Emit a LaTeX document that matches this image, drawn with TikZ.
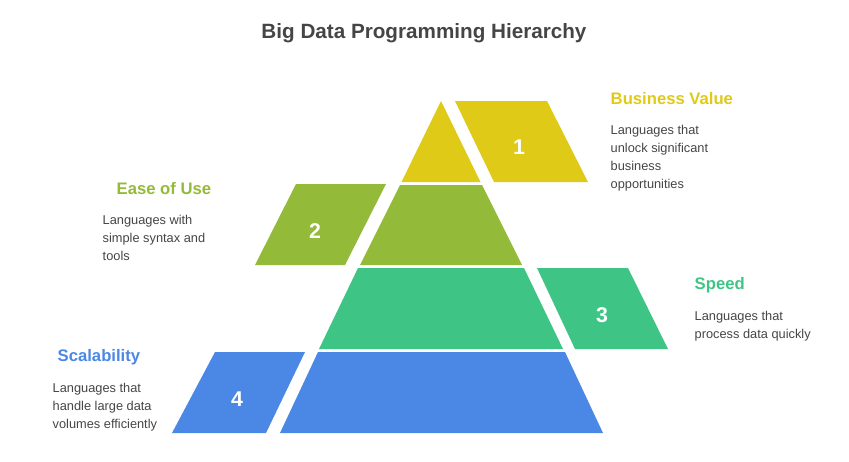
\documentclass[tikz,border=0pt]{standalone}
\usepackage{fontspec}
\setmainfont{Liberation Sans}
\usetikzlibrary{positioning}
\definecolor{bizgold}{HTML}{DFCA18}
\definecolor{easeolive}{HTML}{94BA3A}
\definecolor{speedgreen}{HTML}{3EC586}
\definecolor{scaleblue}{HTML}{4B87E5}
\definecolor{txtgray}{HTML}{454545}
\tikzset{
  num/.style={text=white,font=\bfseries\fontsize{16}{16}\selectfont},
  head/.style={anchor=west,font=\bfseries\fontsize{12.5}{14}\selectfont},
  desc/.style={anchor=north west,align=left,text=txtgray,font=\fontsize{9.6}{13.5}\selectfont},
}
\begin{document}
\begin{tikzpicture}[x=0.75pt,y=-0.75pt]
  \useasboundingbox (0,0) rectangle (849,461);
  \node (title) at (424,33) {\bfseries\fontsize{15.5}{18}\selectfont\color{txtgray}Big Data Programming Hierarchy};

  % pyramid tiers
  \fill [bizgold] (441,101) -- (480.5,182) -- (401.5,182) -- cycle;
  \fill [easeolive] (400,185) -- (482,185) -- (522,265) -- (360,265) -- cycle;
  \fill [speedgreen] (358,268) -- (524,268) -- (563,349) -- (319,349) -- cycle;
  \fill [scaleblue] (318,352) -- (565,352) -- (603,433) -- (280,433) -- cycle;

  % side blocks
  \fill [bizgold] (455,101) -- (547,101) -- (588,182) -- (494,182) -- cycle;
  \fill [easeolive] (296,184) -- (386,184) -- (345,265) -- (255,265) -- cycle;
  \fill [speedgreen] (537,268) -- (628,268) -- (668,349) -- (575,349) -- cycle;
  \fill [scaleblue] (215,352) -- (305,352) -- (266,433) -- (172,433) -- cycle;

  \node [num] (n1) at (519,147) {1};
  \node [num] (n2) at (315,231) {2};
  \node [num] (n3) at (602,315) {3};
  \node [num] (n4) at (237,399) {4};

  % labels
  \node [head,text=bizgold] (h1) at (606,99) {Business Value};
  \node [desc] (d1) at (606,121) {Languages that\\unlock significant\\business\\opportunities};
  \node [head,text=easeolive] (h2) at (112,189) {Ease of Use};
  \node [desc] (d2) at (98,211) {Languages with\\simple syntax and\\tools};
  \node [head,text=speedgreen] (h3) at (690,285) {Speed};
  \node [desc] (d3) at (690,307) {Languages that\\process data quickly};
  \node [head,text=scaleblue] (h4) at (53,357) {Scalability};
  \node [desc] (d4) at (48,379) {Languages that\\handle large data\\volumes efficiently};
\end{tikzpicture}
\end{document}
